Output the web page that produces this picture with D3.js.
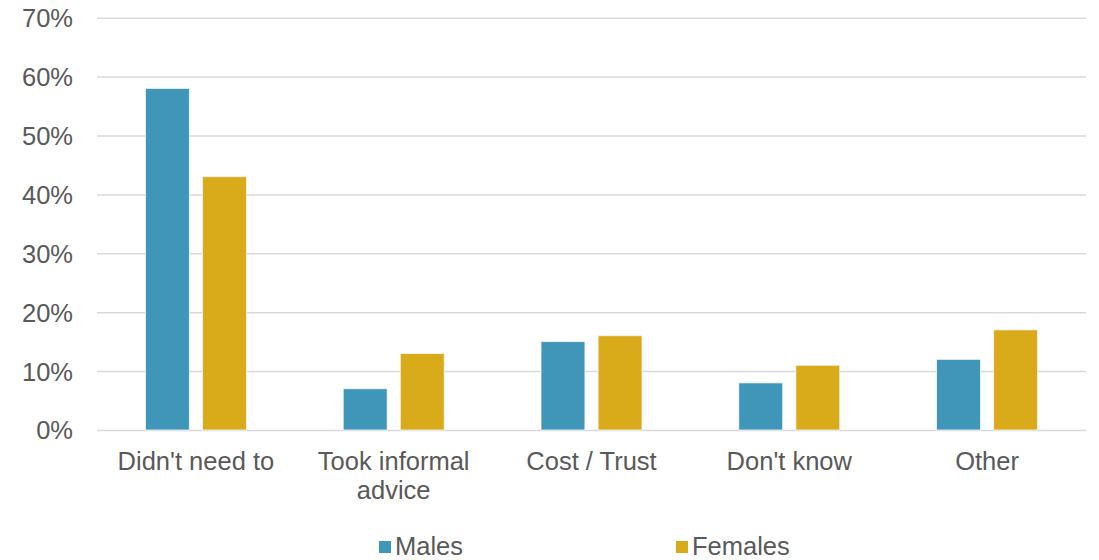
<!DOCTYPE html>
<html><head><meta charset="utf-8">
<script src="https://cdn.jsdelivr.net/npm/d3@7"></script>
<style>body{margin:0;background:#fff}svg{display:block}text{font-family:"Liberation Sans",Arial,sans-serif;fill:#595959}</style>
</head><body><svg id="c" width="1099" height="560"></svg>
<script>
const categories = ["Didn't need to", "Took informal advice", "Cost / Trust", "Don't know", "Other"];
const categoryLines = [["Didn't need to"], ["Took informal", "advice"], ["Cost / Trust"], ["Don't know"], ["Other"]];
const seriesNames = ["Males", "Females"];
const males = [58, 7, 15, 8, 12];
const females = [43, 13, 16, 11, 17];
const yTicks = [0, 10, 20, 30, 40, 50, 60, 70];
const colors = ["#4096B9", "#D9AA19"];

const svg = d3.select("#c");
const plotLeft = 97, plotRight = 1086, plotTop = 17.7, plotBottom = 430;
const x0 = d3.scaleBand().domain(categories).range([plotLeft, plotRight]).padding(0);
const groupW = 101;
const x1 = d3.scaleBand().domain(seriesNames).range([x0.bandwidth()/2 - groupW/2, x0.bandwidth()/2 + groupW/2]).paddingInner(0.23).paddingOuter(0);
const y = d3.scaleLinear().domain([0, 70]).range([plotBottom, plotTop]);

const yAxis = d3.axisLeft(y).tickValues(yTicks).tickFormat(d => d + "%").tickSize(-(plotRight-plotLeft)).tickPadding(24);
const ga = svg.append("g").attr("transform", `translate(${plotLeft},0)`).call(yAxis);
ga.select(".domain").remove();
ga.selectAll(".tick line").attr("stroke", "#d9d9d9").attr("stroke-width", 1.5);
ga.selectAll(".tick text").style("font-size", "25.5px").style("font-family", "'Liberation Sans',Arial,sans-serif").attr("fill", "#595959").attr("dy", "0.35em");

const data = categories.map((c, i) => ({cat: c, vals: [males[i], females[i]]}));
const g = svg.append("g");
data.forEach(d => {
  g.selectAll(null).data(d.vals).enter().append("rect")
    .attr("x", (v, j) => x0(d.cat) + x1(seriesNames[j]))
    .attr("width", x1.bandwidth())
    .attr("y", v => y(v))
    .attr("height", v => y(0) - y(v))
    .attr("fill", (v, j) => colors[j])
    .attr("stroke", "#f4f8fb").attr("stroke-width", 0.8);
});

categories.forEach((c, i) => {
  const t = svg.append("text").attr("x", x0(c) + x0.bandwidth()/2).attr("y", 470)
    .attr("text-anchor", "middle").style("font-size", "25.5px");
  categoryLines[i].forEach((ln, k) => {
    t.append("tspan").attr("x", x0(c) + x0.bandwidth()/2).attr("dy", k === 0 ? 0 : 29).text(ln);
  });
});

const legendX = [379, 676];
seriesNames.forEach((s, j) => {
  svg.append("rect").attr("x", legendX[j]).attr("y", 541).attr("width", 12).attr("height", 12).attr("fill", colors[j]);
  svg.append("text").attr("x", legendX[j] + 16).attr("y", 555).style("font-size", "25.5px").text(s);
});
</script></body></html>
